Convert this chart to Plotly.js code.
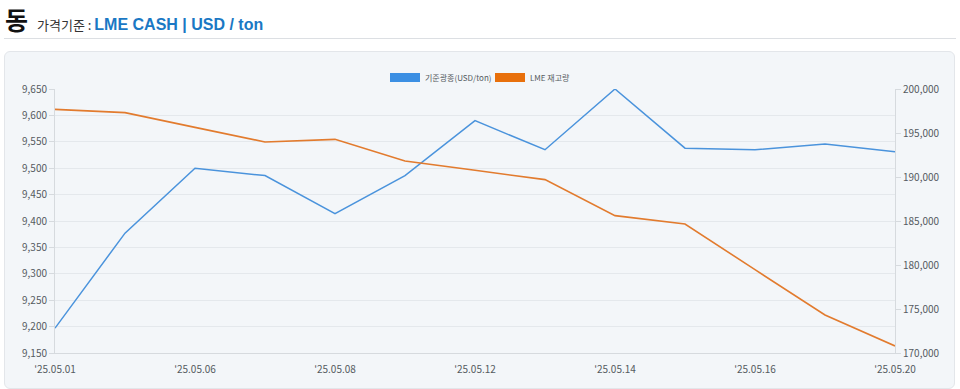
<!DOCTYPE html>
<html>
<head>
<meta charset="utf-8">
<script src="https://cdn.plot.ly/plotly-3.0.1.min.js"></script>
<style>
  html, body { margin:0; padding:0; background:#ffffff; width:960px; height:389px; overflow:hidden; font-family:"Noto Sans CJK KR","Noto Sans",sans-serif; }
  #head { position:absolute; left:5px; top:1px; height:34px; white-space:nowrap; }
  #head .big { font-size:25px; font-weight:700; color:#111; vertical-align:baseline; }
  #head .lbl { font-size:13px; color:#333; margin-left:9px; vertical-align:baseline; }
  #head .val { font-size:16px; font-weight:700; color:#1a78c4; vertical-align:baseline; font-family:"Liberation Sans","Noto Sans CJK KR",sans-serif; }
  #rule { position:absolute; left:4px; top:38px; width:952px; height:1px; background:#dcdfe3; }
  #box { position:absolute; left:4px; top:51px; width:949px; height:336px; background:#f3f6f9; border:1px solid #e3e6ea; border-radius:6px; }
  #chart { position:absolute; left:0; top:0; width:960px; height:389px; }
</style>
</head>
<body>
<div id="head"><span class="big">동</span><span class="lbl">가격기준 : </span><span class="val">LME CASH | USD / ton</span></div>
<div id="rule"></div>
<div id="box"></div>
<div id="chart"></div>
<script>
const dates = ["'25.05.01","'25.05.02","'25.05.06","'25.05.07","'25.05.08","'25.05.09","'25.05.12","'25.05.13","'25.05.14","'25.05.15","'25.05.16","'25.05.19","'25.05.20"];
const priceUSD = [9197, 9377, 9500, 9486, 9414, 9486, 9590, 9535, 9650, 9538, 9535, 9546, 9531];
const stockLME = [197690, 197310, 195640, 193980, 194280, 191820, 190760, 189700, 185610, 184660, 179470, 174320, 170800];
const seriesNames = ["기준광종(USD/ton)", "LME 재고량"];
const tickIdx = [0, 2, 4, 6, 8, 10, 12];

const idx = dates.map((d, i) => i);
const blue = "#4a93dc", orange = "#e27b2e";
const legBlue = "#3b8fe3", legOrange = "#e8700c";

const traces = [
  {x: idx, y: priceUSD, type: "scatter", mode: "lines", name: seriesNames[0], line: {color: blue, width: 1.5}, yaxis: "y", hoverinfo: "none"},
  {x: idx, y: stockLME, type: "scatter", mode: "lines", name: seriesNames[1], line: {color: orange, width: 1.6}, yaxis: "y2", hoverinfo: "none"}
];

const tickFont = {family: "Noto Sans CJK KR, Noto Sans, sans-serif", size: 10, color: "#555b61"};
const layout = {
  width: 960, height: 389,
  margin: {l: 55, r: 65, t: 89, b: 36, pad: 0},
  paper_bgcolor: "rgba(0,0,0,0)",
  plot_bgcolor: "rgba(0,0,0,0)",
  showlegend: false,
  xaxis: {
    range: [0, dates.length - 1],
    tickvals: tickIdx, ticktext: tickIdx.map(i => dates[i]),
    showgrid: false, zeroline: false, showline: true, linecolor: "#d6dade", linewidth: 1,
    ticks: "", ticklabelstandoff: 7, tickfont: tickFont, fixedrange: true
  },
  yaxis: {
    range: [9150, 9650], dtick: 50, tickformat: ",d",
    showgrid: true, gridcolor: "#e4e8ec", gridwidth: 1, zeroline: false,
    showline: true, linecolor: "#d6dade", linewidth: 1,
    ticks: "outside", ticklen: 5, tickcolor: "#d6dade", tickfont: tickFont, fixedrange: true
  },
  yaxis2: {
    overlaying: "y", side: "right",
    range: [170000, 200000], dtick: 5000, tickformat: ",d",
    showgrid: false, zeroline: false,
    showline: true, linecolor: "#d6dade", linewidth: 1,
    ticks: "outside", ticklen: 5, tickcolor: "#d6dade", tickfont: tickFont, fixedrange: true
  },
  shapes: [
    {type: "rect", xref: "paper", yref: "paper", x0: (390-55)/840, x1: (420-55)/840, y0: (389-36-82)/264, y1: (389-36-73)/264, fillcolor: legBlue, line: {width: 0}},
    {type: "rect", xref: "paper", yref: "paper", x0: (495-55)/840, x1: (525-55)/840, y0: (389-36-82)/264, y1: (389-36-73)/264, fillcolor: legOrange, line: {width: 0}}
  ],
  annotations: [
    {xref: "paper", yref: "paper", x: (423-55)/840, y: (389-36-77.5)/264, xanchor: "left", yanchor: "middle", showarrow: false, text: seriesNames[0], font: {family: "Noto Sans CJK KR, sans-serif", size: 8, color: "#555b61"}},
    {xref: "paper", yref: "paper", x: (528-55)/840, y: (389-36-77.5)/264, xanchor: "left", yanchor: "middle", showarrow: false, text: seriesNames[1], font: {family: "Noto Sans CJK KR, sans-serif", size: 8, color: "#555b61"}}
  ]
};

Plotly.newPlot("chart", traces, layout, {displayModeBar: false, staticPlot: true});
</script>
</body>
</html>
